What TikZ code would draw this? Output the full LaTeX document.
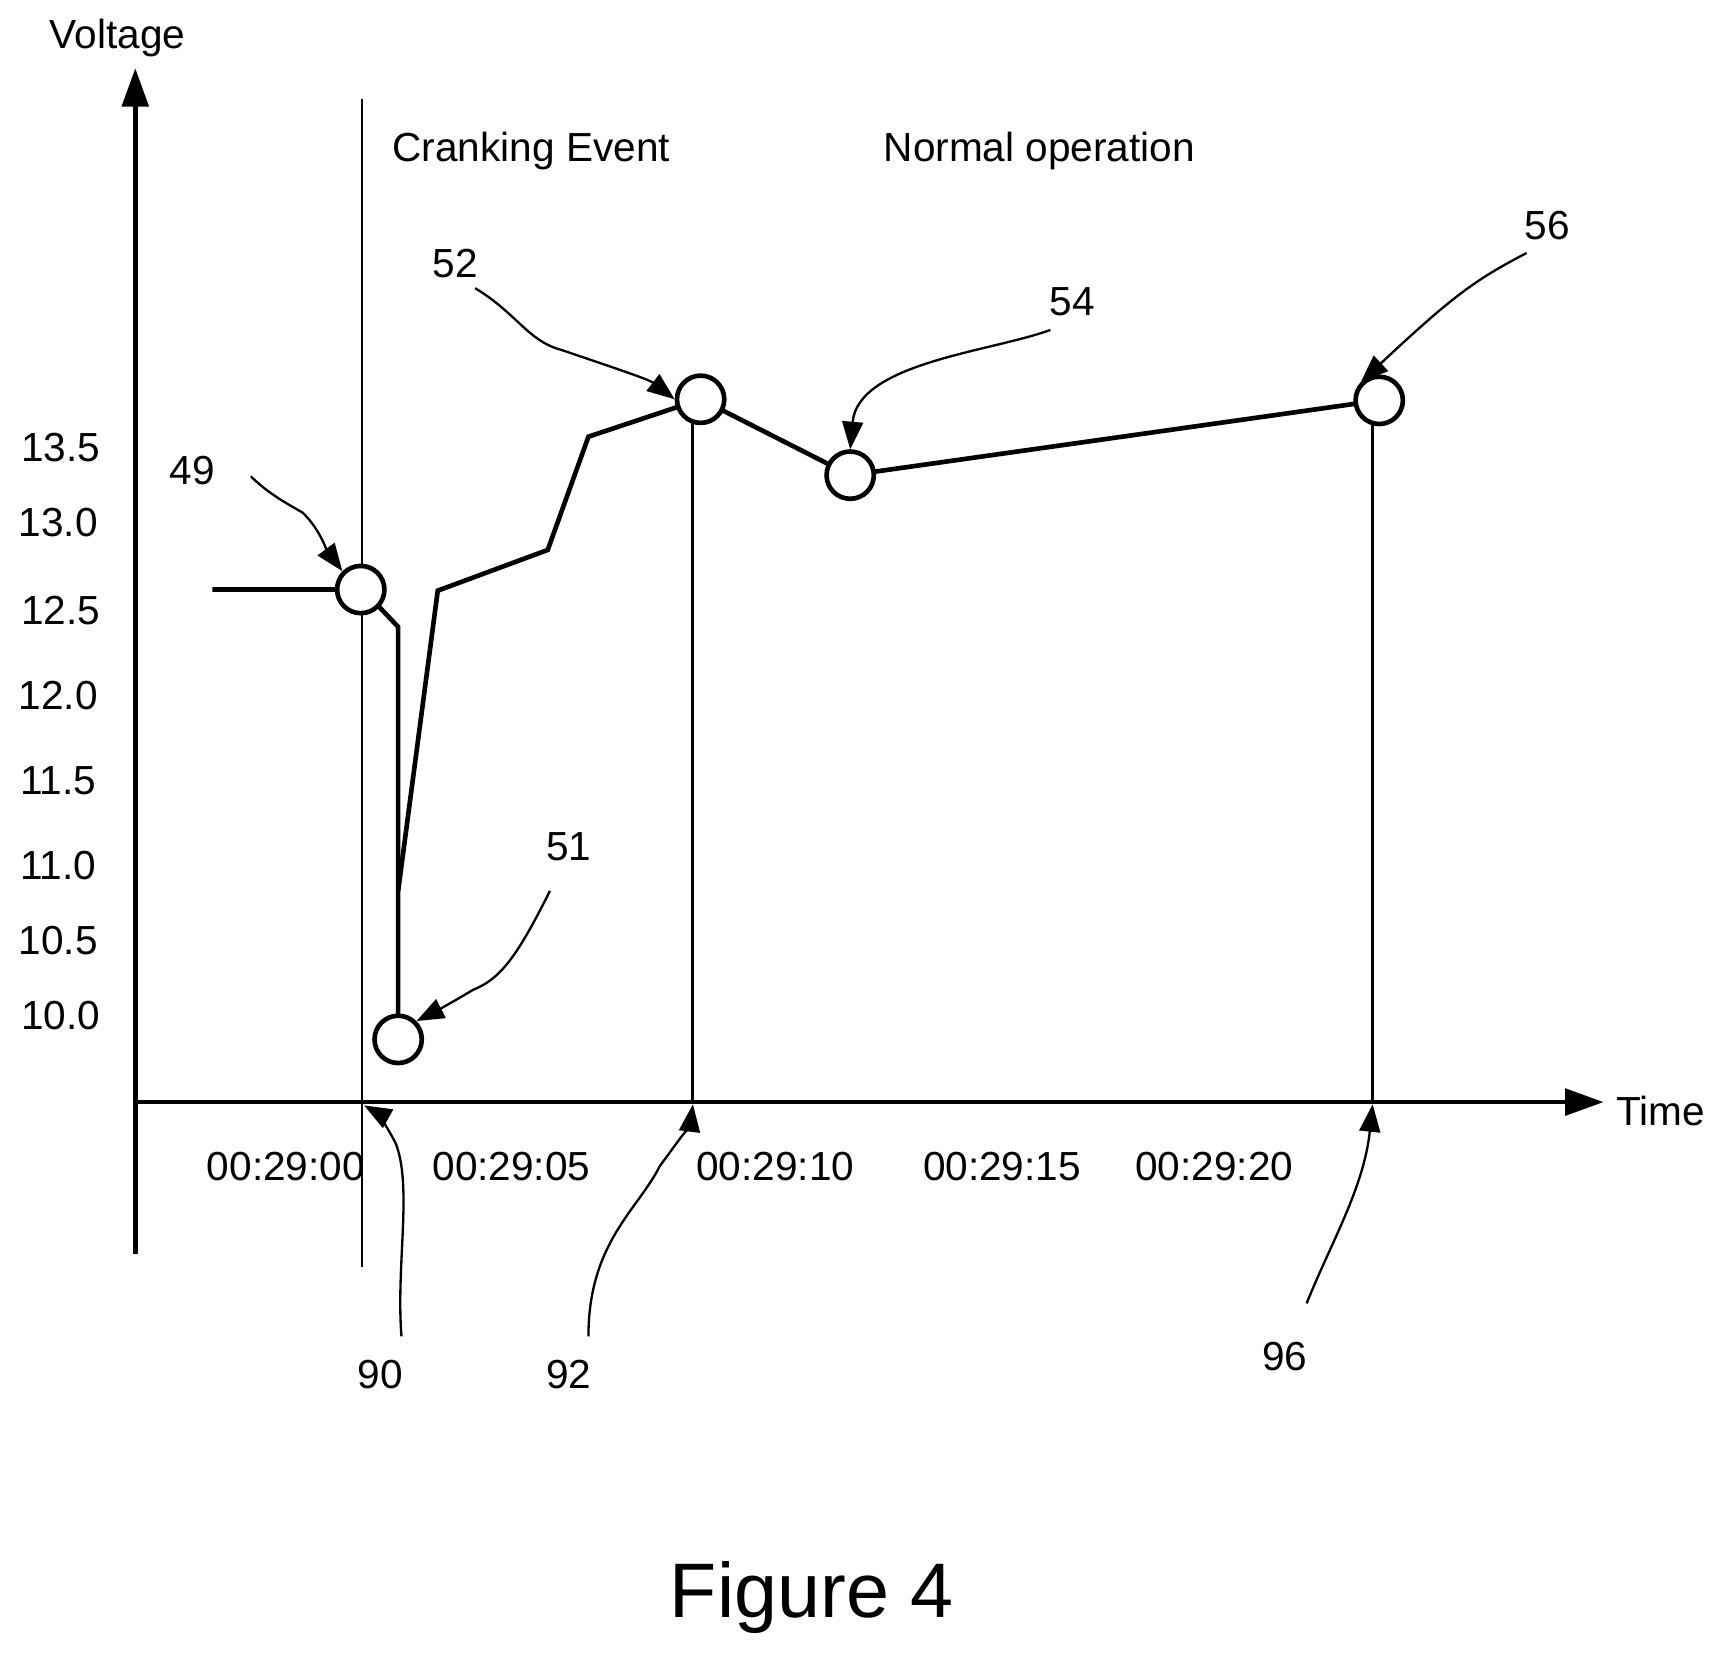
\documentclass[tikz,border=0pt]{standalone}
\usepackage{fontspec}
\setmainfont{Liberation Sans}
\usetikzlibrary{arrows.meta}
\begin{document}
\begin{tikzpicture}[x=0.02cm,y=-0.02cm,
  lbl/.style={font=\fontsize{21}{24}\selectfont,inner sep=0pt},
  pt/.style={circle,draw,line width=2.4pt,minimum size=0.86cm,inner sep=0pt,fill=white},
  data/.style={line width=2.4pt,line join=miter},
  callout/.style={line width=1.2pt,-{Triangle[length=0.5cm,width=0.38cm]}},
  axisline/.style={line width=2.4pt,-{Triangle[length=0.7cm,width=0.48cm]}}]
\useasboundingbox (0,0) rectangle (1562,1502);
% axes
\coordinate (yo) at (123,1140);
\coordinate (ytip) at (123,62);
\coordinate (xo) at (123,1002);
\coordinate (xtip) at (1458,1002);
\draw[axisline] (yo) -- (ytip);
\draw[axisline] (xo) -- (xtip);
\node[lbl] (vlab) at (107,35) {Voltage};
\node[lbl] (tlab) at (1510,1010) {Time};
% vertical markers
\coordinate (v90a) at (329,90);
\coordinate (v90b) at (329,1152);
\draw[line width=1.1pt] (v90a) -- (v90b);
% y labels
\node[lbl] (y135) at (55,407) {13.5};
\node[lbl] (y130) at (53,475) {13.0};
\node[lbl] (y125) at (55,555) {12.5};
\node[lbl] (y120) at (53,632) {12.0};
\node[lbl] (y115) at (53,710) {11.5};
\node[lbl] (y110) at (53,787) {11.0};
\node[lbl] (y105) at (53,855) {10.5};
\node[lbl] (y100) at (55,923) {10.0};
% time labels
\node[lbl] (t0) at (260,1061) {00:29:00};
\node[lbl] (t5) at (465,1061) {00:29:05};
\node[lbl] (t10) at (705,1061) {00:29:10};
\node[lbl] (t15) at (911,1061) {00:29:15};
\node[lbl] (t20) at (1104,1061) {00:29:20};
\node[lbl] (ce) at (483,137) {Cranking Event};
\node[lbl] (no) at (945,137) {Normal operation};
% data
\coordinate (start) at (193,536);
\coordinate (d1) at (362,570);
\coordinate (d2) at (362,925);
\coordinate (r0) at (362,810);
\coordinate (r1) at (398,537);
\coordinate (r2) at (498,500);
\coordinate (r3) at (535,397);
\coordinate (b92) at (630,1002);
\coordinate (b96) at (1248,1002);
\draw[line width=1.6pt] (630,365) -- (b92);
\draw[line width=1.6pt] (1248,365) -- (b96);
\draw[data] (start) -- (328,536) -- (345,552) -- (d1) -- (d2);
\draw[data] (r0) -- (r1) -- (r2) -- (r3) -- (637,363) -- (773,432) -- (1254,364);
\node[pt] (p49) at (328,536) {};
\node[pt] (p51) at (362,945) {};
\node[pt] (p52) at (637,363) {};
\node[pt] (p54) at (773,432) {};
\node[pt] (p56) at (1254,364) {};
% callout labels
\node[lbl] (n49) at (175,428) {49};
\node[lbl] (n51) at (517,770) {51};
\node[lbl] (n52) at (414,240) {52};
\node[lbl] (n54) at (975,274) {54};
\node[lbl] (n56) at (1407,205) {56};
\node[lbl] (n90) at (346,1250) {90};
\node[lbl] (n92) at (517,1250) {92};
\node[lbl] (n96) at (1168,1233) {96};
\coordinate (a90) at (331,1005);
\coordinate (a92) at (630,1004);
\coordinate (a96) at (1248,1004);
\draw[callout] (228,433) .. controls (245,450) and (265,460) .. (275,466) .. controls (290,480) and (297,500) .. (p49.north west);
\draw[callout] (432,262) .. controls (470,285) and (480,310) .. (510,318) .. controls (560,335) and (590,345) .. (p52.west);
\draw[callout] (955,300) .. controls (900,320) and (780,330) .. (p54.north);
\draw[callout] (1388,230) .. controls (1340,255) and (1320,270) .. (p56.north west);
\draw[callout] (500,810) .. controls (470,870) and (455,890) .. (430,900) .. controls (410,912) and (395,920) .. (p51.north east);
\draw[callout] (365,1215) .. controls (360,1150) and (375,1080) .. (360,1040) .. controls (350,1020) and (340,1010) .. (a90);
\draw[callout] (535,1215) .. controls (535,1130) and (580,1100) .. (600,1060) .. controls (615,1040) and (628,1020) .. (a92);
\draw[callout] (1188,1185) .. controls (1210,1130) and (1240,1080) .. (a96);
\node[font=\fontsize{40}{44}\selectfont,inner sep=0pt] (fig) at (738,1452) {Figure 4};
\end{tikzpicture}
\end{document}
